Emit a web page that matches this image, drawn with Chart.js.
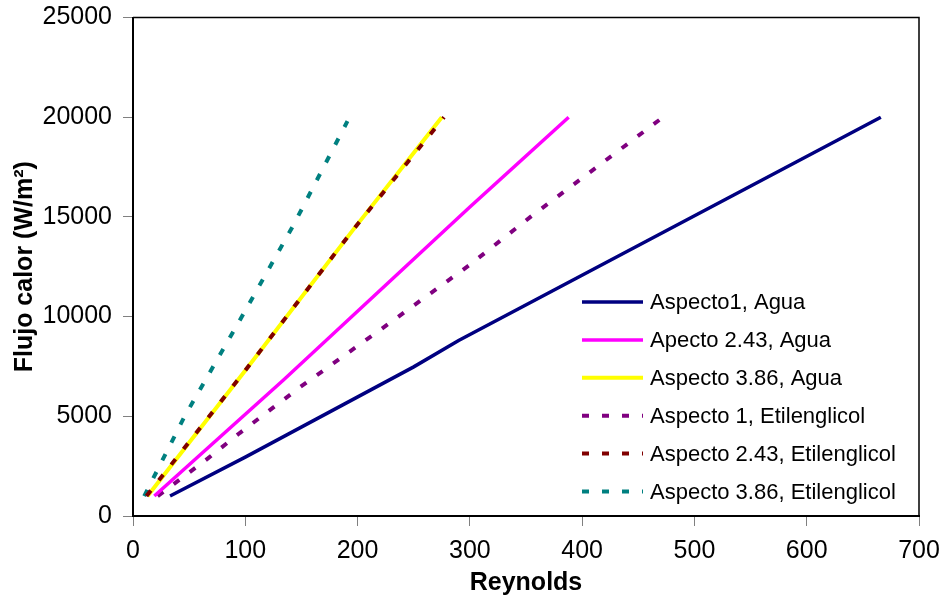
<!DOCTYPE html>
<html>
<head>
<meta charset="utf-8">
<script src="https://cdn.jsdelivr.net/npm/chart.js@4/dist/chart.umd.min.js"></script>
<style>
  html, body { margin: 0; padding: 0; background: #fff; }
  #wrap { width: 947px; height: 600px; }
</style>
</head>
<body>
<div id="wrap"><canvas id="chartId" width="947" height="600"></canvas></div>
<script>
// Reynolds (x) vs heat flux (y)
var labels = ["Aspecto1, Agua", "Apecto 2.43, Agua", "Aspecto 3.86, Agua",
              "Aspecto 1, Etilenglicol", "Aspecto 2.43, Etilenglicol", "Aspecto 3.86, Etilenglicol"];

var re1Agua = [33, 100, 250, 290, 666];
var q1Agua = [1000, 2950, 7480, 8800, 20000];

var re243Agua = [19, 134, 300, 388];
var q243Agua = [1000, 6820, 15500, 20000];

var re386Agua = [13, 100, 196, 275];
var q386Agua = [1000, 7300, 14350, 20000];

var re1Etil = [22, 67, 95, 149, 220, 300, 354, 472];
var q1Etil = [1000, 2900, 4160, 6470, 9330, 12600, 15000, 20000];

var re243Etil = [12, 100, 196, 277];
var q243Etil = [1000, 7300, 14350, 20000];

var re386Etil = [10, 46, 100, 143, 191];
var q386Etil = [1000, 5000, 10300, 14600, 19800];

var xTicks = [0, 100, 200, 300, 400, 500, 600, 700];
var yTicks = [0, 5000, 10000, 15000, 20000, 25000];

function pts(xs, ys) {
    return xs.map(function (x, i) { return { x: x, y: ys[i] }; });
}

var FONT = "Arial, 'Liberation Sans', sans-serif";

// box around plot + legend inside the plot
var boxLegend = {
    id: 'boxLegend',
    beforeDatasetsDraw: function (chart) {
        var a = chart.chartArea, ctx = chart.ctx;
        ctx.save();
        ctx.strokeStyle = '#000';
        ctx.lineWidth = 1.5;
        ctx.beginPath();
        ctx.moveTo(a.left, a.top);
        ctx.lineTo(a.right, a.top);
        ctx.lineTo(a.right, a.bottom);
        ctx.stroke();
        ctx.restore();
    },
    afterDraw: function (chart) {
        var ctx = chart.ctx;
        var x0 = 582, x1 = 643, tx = 650, y0 = 302, step = 37.9;
        ctx.save();
        chart.data.datasets.forEach(function (ds, i) {
            var y = y0 + i * step;
            ctx.strokeStyle = ds.borderColor;
            ctx.lineWidth = ds.borderWidth;
            ctx.setLineDash(ds.borderDash || []);
            ctx.lineCap = 'butt';
            ctx.beginPath();
            ctx.moveTo(x0, y);
            ctx.lineTo(x1, y);
            ctx.stroke();
            ctx.setLineDash([]);
            ctx.fillStyle = '#000';
            ctx.font = '22px ' + FONT;
            ctx.textAlign = 'left';
            ctx.textBaseline = 'middle';
            ctx.fillText(ds.label, tx, y + 1);
        });
        ctx.restore();
    }
};

function plain(v) { return String(v); }

window.onload = function () {
    var chrt = document.getElementById("chartId").getContext("2d");
    var chartId = new Chart(chrt, {
        type: 'line',
        data: {
            datasets: [{
                label: labels[0],
                data: pts(re1Agua, q1Agua),
                borderColor: '#000080',
                borderWidth: 3.5,
                order: 1
            }, {
                label: labels[1],
                data: pts(re243Agua, q243Agua),
                borderColor: '#FF00FF',
                borderWidth: 3.5,
                order: 1
            }, {
                label: labels[2],
                data: pts(re386Agua, q386Agua),
                borderColor: '#FFFF00',
                borderWidth: 4,
                order: 2
            }, {
                label: labels[3],
                data: pts(re1Etil, q1Etil),
                borderColor: '#800080',
                borderWidth: 4,
                borderDash: [7, 13],
                order: 1
            }, {
                label: labels[4],
                data: pts(re243Etil, q243Etil),
                borderColor: '#800000',
                borderWidth: 4,
                borderDash: [7, 13],
                order: 1
            }, {
                label: labels[5],
                data: pts(re386Etil, q386Etil),
                borderColor: '#008080',
                borderWidth: 4,
                borderDash: [7, 13],
                order: 1
            }]
        },
        plugins: [boxLegend],
        options: {
            responsive: false,
            animation: false,
            layout: { padding: { top: 17.5, right: 28, left: 0, bottom: 0 } },
            elements: {
                point: { radius: 0 },
                line: { tension: 0, fill: false, borderCapStyle: 'butt' }
            },
            plugins: {
                legend: { display: false },
                tooltip: { enabled: false }
            },
            scales: {
                x: {
                    type: 'linear',
                    min: 0,
                    max: 700,
                    afterFit: function (s) { s.height = 84; s.paddingLeft = 0; s.paddingRight = 0; },
                    afterBuildTicks: function (s) { s.ticks = xTicks.map(function (v) { return { value: v }; }); },
                    border: { color: '#000', width: 2 },
                    grid: { drawOnChartArea: false, drawTicks: true, tickLength: 10, color: '#808080' },
                    ticks: { color: '#000', padding: 10, maxRotation: 0, callback: plain, font: { family: FONT, size: 25 } },
                    title: {
                        display: true,
                        text: 'Reynolds',
                        color: '#000',
                        padding: { top: 0, bottom: 2 },
                        font: { family: FONT, size: 25, weight: 'bold' }
                    }
                },
                y: {
                    min: 0,
                    max: 25000,
                    afterFit: function (s) { s.width = 133; s.paddingTop = 0; s.paddingBottom = 0; },
                    afterBuildTicks: function (s) { s.ticks = yTicks.map(function (v) { return { value: v }; }); },
                    border: { color: '#000', width: 2 },
                    grid: { drawOnChartArea: false, drawTicks: true, tickLength: 10, color: '#808080' },
                    ticks: { color: '#000', padding: 11, callback: plain, font: { family: FONT, size: 25 } },
                    title: {
                        display: true,
                        text: 'Flujo calor (W/m²)',
                        color: '#000',
                        padding: { top: 10, bottom: 0 },
                        font: { family: FONT, size: 25, weight: 'bold' }
                    }
                }
            }
        }
    });
};
</script>
</body>
</html>
